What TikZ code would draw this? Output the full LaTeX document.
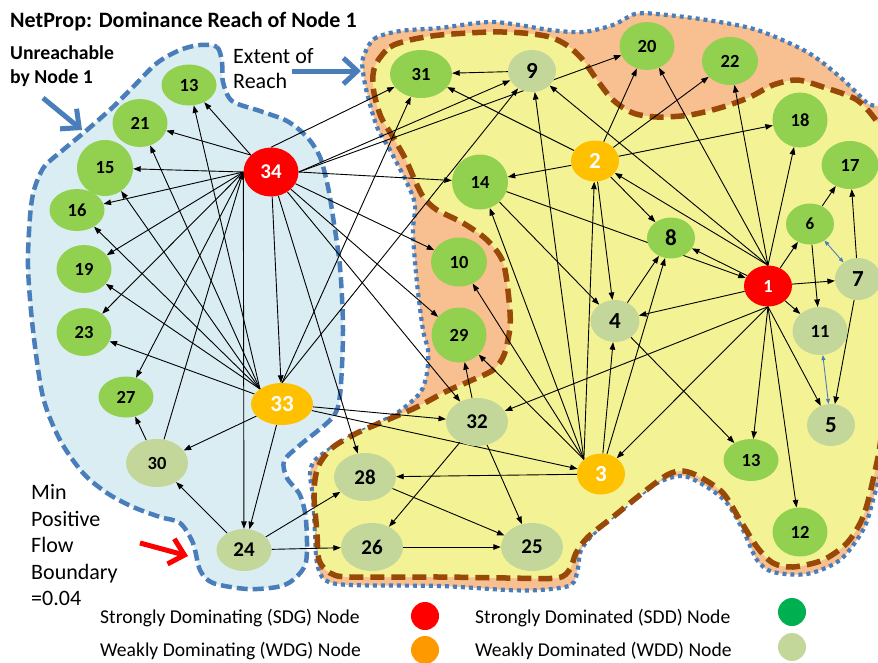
\documentclass[tikz,border=0pt]{standalone}
\usepackage{fontspec}
\setmainfont{Carlito}
\usetikzlibrary{shapes.geometric,arrows.meta}
\definecolor{bluefill}{RGB}{218,237,243}
\definecolor{bluec}{RGB}{74,126,187}
\definecolor{orfill}{RGB}{248,192,144}
\definecolor{yelfill}{RGB}{243,243,150}
\definecolor{brownc}{RGB}{152,72,7}
\definecolor{grn}{RGB}{146,208,80}
\definecolor{wddc}{RGB}{196,215,155}
\definecolor{wdgc}{RGB}{255,192,0}
\definecolor{lgor}{RGB}{255,153,0}
\definecolor{lggr}{RGB}{0,176,80}
\definecolor{sdgc}{RGB}{255,0,0}
\pgfdeclarelayer{bg}
\pgfdeclarelayer{edges}
\pgfsetlayers{bg,edges,main}
\tikzset{
  nd/.style={ellipse, inner sep=0pt, font=\bfseries\fontsize{18.5}{18.5}\selectfont},
  sz/.style 2 args={minimum width=#1, minimum height=#2},
  fB/.style={font=\bfseries\fontsize{21}{21}\selectfont},
  fC/.style={font=\bfseries\fontsize{23}{23}\selectfont},
  gn/.style={nd, fill=grn},
  wd/.style={nd, fill=wddc},
  sd/.style={nd, fill=sdgc, text=white},
  wg/.style={nd, fill=wdgc, text=white},
  e/.style={draw, line width=0.9pt, -{Triangle[length=7.5pt,width=5.5pt]}},
  be/.style={draw=bluec, line width=0.9pt, {Triangle[length=5pt,width=4pt]}-{Triangle[length=5pt,width=4pt]}},
  bigarrow/.style={draw, line width=5pt, line cap=butt, -{Straight Barb[length=14pt,width=26pt]}},
  txt/.style={anchor=base west, inner sep=0pt},
  lgdot/.style={circle, minimum size=28pt, inner sep=0pt}
}
\begin{document}
\begin{tikzpicture}[x=1pt,y=-1pt]
\useasboundingbox (0,0) rectangle (878,662);

\begin{pgfonlayer}{bg}
\clip (0,0) rectangle (878,662);
\fill[white] (0,0) rectangle (878,662);
% left unreachable region
\path[fill=bluefill, draw=bluec, line width=4.5pt, dash pattern=on 11pt off 5pt]
 plot[smooth cycle, tension=0.5] coordinates {
 (200,45) (217,47) (222,62) (223,82) (232,101) (260,111) (287,121) (307,137) (320,157) (328,187)
 (333,217) (340,267) (343,330) (340,395) (332,418) (300,445) (284,461) (287,478) (300,495) (306,520)
 (306,562) (293,580) (277,587) (247,589) (213,583) (200,570) (193,543) (180,523) (160,517) (133,507)
 (107,493) (83,473) (60,440) (43,397) (33,330) (28,267) (30,217) (34,190) (44,167) (63,150)
 (87,130) (113,107) (133,87) (157,63) (180,50)};
% orange reach region
\path[fill=orfill, draw=bluec, line width=4.2pt, dash pattern=on 4pt off 4pt]
 plot[smooth cycle, tension=0.5] coordinates {
 (363,58) (374,39) (400,31) (440,28) (493,22) (550,30) (583,32) (613,25) (635,14) (657,14)
 (707,20) (757,30) (807,52) (840,77) (867,103) (890,125) (898,300) (890,430) (873,500) (863,530)
 (840,560) (807,574) (773,572) (757,560) (743,530) (727,503) (707,487) (683,476) (657,483) (627,505)
 (597,530) (581,550) (578,568) (571,585) (540,590) (507,590) (440,586) (350,585) (325,580) (317,563)
 (315,533) (313,497) (310,473) (316,459) (340,443) (370,427) (397,413) (420,393) (427,373) (428,350)
 (423,330) (417,283) (413,233) (415,205) (407,183) (390,150) (377,127) (367,93) (363,72)};
% yellow dominance region
\path[fill=yelfill, draw=brownc, line width=5.5pt, dash pattern=on 14pt off 7pt]
 plot[smooth cycle, tension=0.5] coordinates {
 (377,62) (390,47) (410,40) (440,35) (490,32) (523,33) (550,37) (568,46) (583,60) (597,80)
 (613,100) (633,113) (657,117) (690,115) (723,107) (750,97) (773,85) (797,80) (823,87) (857,100)
 (878,123) (893,150) (893,300) (882,430) (873,480) (863,517) (847,543) (823,560) (793,567) (773,563)
 (757,547) (740,520) (723,493) (700,477) (683,471) (667,475) (640,495) (613,517) (588,537) (576,553)
 (570,569) (557,578) (507,578) (440,577) (350,577) (330,573) (319,560) (317,533) (314,493) (318,467)
 (332,448) (357,433) (387,420) (417,407) (445,392) (470,381) (493,370) (504,355) (510,327) (509,300)
 (503,262) (487,240) (463,223) (437,210) (424,198) (416,183) (406,160) (393,137) (381,117) (374,93)
 (373,75)};
\end{pgfonlayer}

% ---- nodes: unreachable side
\node[gn, sz={55pt}{41pt}] (n13a) at (189,85) {13};
\node[gn, sz={55pt}{48pt}] (n21) at (140,123) {21};
\node[gn, sz={56pt}{56pt}] (n15) at (105,168) {15};
\node[gn, sz={55pt}{42pt}] (n16) at (77,210) {16};
\node[gn, sz={55pt}{48pt}] (n19) at (84,269) {19};
\node[gn, sz={55pt}{48pt}] (n23) at (84,332) {23};
\node[gn, sz={55pt}{41pt}] (n27) at (126,397) {27};
\node[wd, sz={62pt}{48pt}] (n30) at (157,463) {30};
\node[wd, fB, sz={55pt}{42pt}] (n24) at (244,550) {24};
\node[sd, fB, sz={55pt}{49pt}] (n34) at (271,172) {34};
\node[wg, fC, sz={62pt}{42pt}] (n33) at (282,404) {33};
% ---- reach side
\node[gn, sz={62pt}{48pt}] (n31) at (421,74) {31};
\node[wd, fC, sz={48pt}{42pt}] (n9) at (532,71) {9};
\node[gn, sz={55pt}{48pt}] (n20) at (647,46) {20};
\node[gn, sz={56pt}{48pt}] (n22) at (730,61) {22};
\node[gn, sz={55pt}{55pt}] (n18) at (800,120) {18};
\node[gn, sz={57pt}{48pt}] (n17) at (850,165) {17};
\node[wg, fC, sz={48pt}{41pt}] (n2) at (595,161) {2};
\node[gn, sz={56pt}{55pt}] (n14) at (480,182) {14};
\node[gn, fC, sz={48pt}{41pt}] (n8) at (671,238) {8};
\node[gn, font=\bfseries\fontsize{17}{17}\selectfont, sz={48pt}{41pt}] (n6) at (810,224) {6};
\node[wd, fC, sz={46pt}{42pt}] (n7) at (858,279) {7};
\node[sd, sz={48pt}{41pt}] (n1) at (768,286) {1};
\node[gn, sz={56pt}{49pt}] (n10) at (459,262) {10};
\node[gn, sz={55pt}{55pt}] (n29) at (459,335) {29};
\node[wd, fC, sz={49pt}{42pt}] (n4) at (615,321) {4};
\node[wd, sz={55pt}{48pt}] (n11) at (820,331) {11};
\node[wd, fC, sz={48pt}{42pt}] (n5) at (831,425) {5};
\node[gn, sz={55pt}{42pt}] (n13b) at (751,460) {13};
\node[gn, sz={55pt}{49pt}] (n12) at (800,532) {12};
\node[wd, fB, sz={62pt}{48pt}] (n32) at (477,422) {32};
\node[wg, fC, sz={48pt}{41pt}] (n3) at (601,474) {3};
\node[wd, fB, sz={62pt}{48pt}] (n28) at (365,477) {28};
\node[wd, fB, sz={62pt}{48pt}] (n26) at (372,547) {26};
\node[wd, fB, sz={62pt}{48pt}] (n25) at (532,547) {25};

% ---- edges
\begin{pgfonlayer}{edges}
% from 34
\foreach \t in {n13a,n21}
  \draw[e] (n34.140) -- (\t);
\draw[e] (n34.west) -- (n15);
\foreach \t in {n16,n19,n23,n27,n24}
  \draw[e] (n34.west) -- (\t);
\draw[e] (n34.north) -- (n31);
\foreach \t in {n9,n20,n14}
  \draw[e] (n34.east) -- (\t);
\foreach \t in {n33,n28,n32,n29,n10}
  \draw[e] (n34) -- (\t);
% from 33
\foreach \t in {n13a,n21,n15,n16,n19}
  \draw[e] (n33.north west) -- (\t);
\draw[e] (n33) -- (n23);
\draw[e] (n33.north) -- (n31);
\draw[e] (n33.north) -- (n9);
\foreach \t in {n30,n24,n32,n3}
  \draw[e] (n33) -- (\t);
\draw[e] (n30) -- (n34.west);
\draw[e] (n30) -- (n27);
\foreach \t in {n30,n28,n26}
  \draw[e] (n24) -- (\t);
\draw[e] (n9) -- (n31);
\foreach \t in {n31,n20,n22,n18,n14,n8,n4}
  \draw[e] (n2) -- (\t);
\foreach \t in {n9,n2,n20,n22,n18}
  \draw[e] (n1.north) -- (\t);
\foreach \t in {n6,n7,n11,n4,n8}
  \draw[e] (n1) -- (\t);
\foreach \t in {n5,n12,n13b,n3,n32}
  \draw[e] (n1.south) -- (\t);
\draw[e] (n14) -- (n1);
\draw[e] (n14) -- (n4);
\foreach \t in {n29,n10,n14,n9,n2}
  \draw[e] (n3.north west) -- (\t);
\foreach \t in {n4,n8,n28}
  \draw[e] (n3) -- (\t);
\foreach \t in {n29,n26,n25}
  \draw[e] (n32) -- (\t);
\draw[e] (n28) -- (n25);
\draw[e] (n26) -- (n25);
\draw[e] (n4) -- (n8);
\draw[e] (n4) -- (n13b);
\draw[e] (n6) -- (n17);
\draw[e] (n6) -- (n11);
\draw[e] (n7) -- (n17);
\draw[e] (n7) -- (n5);
\draw[be] (n6) -- (n7);
\draw[be] (n11) -- (n5);
\end{pgfonlayer}

% ---- texts
\node[txt, font=\bfseries\fontsize{22}{22}\selectfont] (title) at (10,27) {NetProp: Dominance Reach of Node 1};
\node[txt, font=\bfseries\fontsize{19.7}{19.7}\selectfont] (unr1) at (10,59) {Unreachable};
\node[txt, font=\bfseries\fontsize{19.7}{19.7}\selectfont] (unr2) at (10,83) {by Node 1};
\node[txt, font=\fontsize{22}{22}\selectfont] (ext1) at (233,63) {Extent of};
\node[txt, font=\fontsize{22}{22}\selectfont] (ext2) at (233,88) {Reach};
\node[txt, font=\fontsize{22}{22}\selectfont] (mp1) at (31,499) {Min};
\node[txt, font=\fontsize{22}{22}\selectfont] (mp2) at (31,526) {Positive};
\node[txt, font=\fontsize{22}{22}\selectfont] (mp3) at (31,552) {Flow};
\node[txt, font=\fontsize{22}{22}\selectfont] (mp4) at (31,579) {Boundary};
\node[txt, font=\fontsize{22}{22}\selectfont] (mp5) at (31,605) {=0.04};

% ---- pointer arrows
\coordinate (ea1) at (292,71);
\coordinate (ea2) at (361,71);
\draw[bigarrow, bluec] (ea1) -- (ea2);
\coordinate (ua1) at (43,98);
\coordinate (ua2) at (82,130);
\draw[bigarrow, bluec] (ua1) -- (ua2);
\coordinate (ra1) at (140,543);
\coordinate (ra2) at (188,556);
\draw[bigarrow, red] (ra1) -- (ra2);

% ---- legend
\node[txt, font=\fontsize{19.6}{19.6}\selectfont] (lt1) at (100,623) {Strongly Dominating (SDG) Node};
\node[txt, font=\fontsize{19.6}{19.6}\selectfont] (lt2) at (100,656) {Weakly Dominating (WDG) Node};
\node[txt, font=\fontsize{19.6}{19.6}\selectfont] (lt3) at (475,623) {Strongly Dominated (SDD) Node};
\node[txt, font=\fontsize{19.6}{19.6}\selectfont] (lt4) at (475,656) {Weakly Dominated (WDD) Node};
\node[lgdot, fill=sdgc] (ld1) at (425,616) {};
\node[lgdot, fill=lgor] (ld2) at (425,650) {};
\node[lgdot, fill=lggr] (ld3) at (792,612) {};
\node[lgdot, fill=wddc] (ld4) at (792,647) {};
\end{tikzpicture}
\end{document}
